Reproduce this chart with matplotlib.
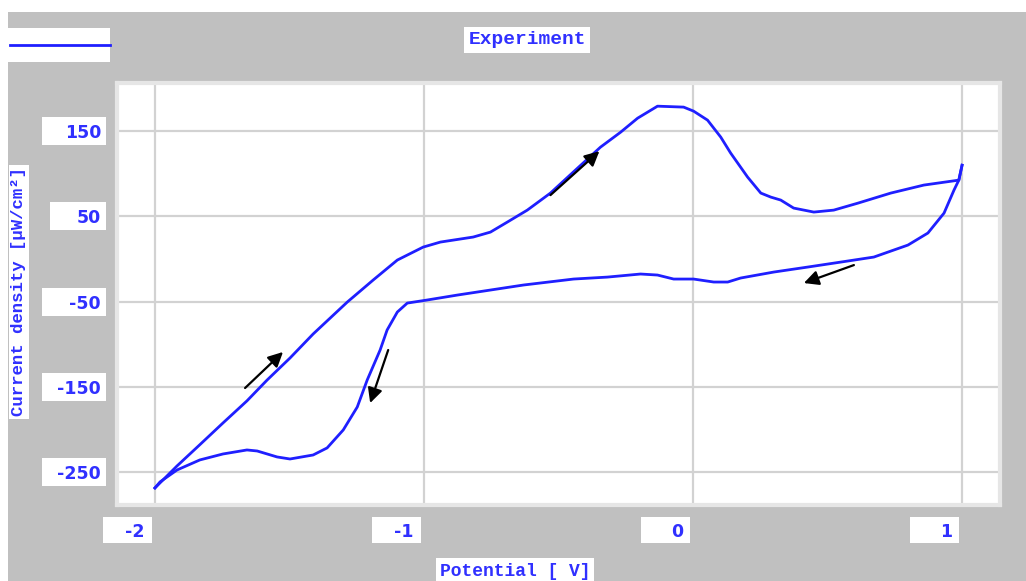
import matplotlib.pyplot as plt
import matplotlib.transforms as mtransforms
from matplotlib.patches import Rectangle

# -----------------------------
# DATA
# -----------------------------
# forward scan, -2 V -> +1 V
fwd_v = [-2.000, -1.918, -1.833, -1.747, -1.658, -1.583, -1.498, -1.412, -1.285,
         -1.189, -1.099, -1.003, -0.939, -0.817, -0.753, -0.690, -0.616, -0.530,
         -0.437, -0.344, -0.269, -0.206, -0.132, -0.035, 0.002, 0.054, 0.103,
         0.140, 0.203, 0.252, 0.289, 0.326, 0.374, 0.449, 0.523, 0.613, 0.735,
         0.858, 0.988, 1.000]
fwd_i = [-268.8, -243.0, -218.0, -192.5, -166.6, -142.1, -116.3, -88.1, -50.6,
         -24.8, -1.3, 13.9, 19.8, 25.7, 31.5, 43.3, 57.3, 77.3,
         104.3, 131.2, 148.8, 165.2, 179.3, 178.2, 173.5, 162.9, 143.0,
         124.2, 96.0, 77.3, 72.6, 69.1, 59.7, 55.0, 57.3, 65.5, 77.3,
         86.7, 92.5, 110.0]

# reverse scan, +1 V -> -2 V
rev_v = [1.000, 0.988, 0.970, 0.933, 0.873, 0.799, 0.672, 0.549, 0.427, 0.300,
         0.177, 0.129, 0.077, 0.002, -0.072, -0.132, -0.195, -0.318, -0.444,
         -0.630, -0.753, -0.876, -0.988, -1.062, -1.099, -1.137, -1.163, -1.211,
         -1.248, -1.300, -1.360, -1.412, -1.498, -1.546, -1.620, -1.658, -1.747,
         -1.833, -1.918, -1.981, -2.000]
rev_i = [110.0, 92.5, 80.8, 53.8, 30.4, 16.3, 2.2, -3.7, -9.5, -15.4,
         -22.4, -27.1, -27.1, -23.6, -23.6, -18.9, -17.7, -21.3, -23.6,
         -30.6, -36.5, -42.4, -48.2, -51.8, -62.3, -83.4, -106.9, -142.1,
         -173.8, -200.7, -221.8, -230.1, -234.8, -232.4, -225.4, -224.2, -228.9,
         -235.9, -247.7, -261.7, -268.8]

# scan direction arrows: (tail_v, tail_i, tip_v, tip_i)
arrows = [(-1.665, -151.5, -1.524, -109.2),
          (-1.133, -106.9, -1.200, -169.1),
          (-0.530, 74.9, -0.348, 126.5),
          (0.598, -7.2, 0.412, -28.3)]

x_ticks = [-2, -1, 0, 1]
y_ticks = [150, 50, -50, -150, -250]

BLUE = "#1f1fff"
TXT = "#3030ff"
GRAY = "#c0c0c0"

fig = plt.figure(figsize=(10.26, 5.81), dpi=100, facecolor="white")
# gray panel behind everything (white strip at top and left edge)
fig.patches.append(Rectangle((8 / 1026, 0), 1, 569 / 581, transform=fig.transFigure,
                             facecolor=GRAY, edgecolor="none", zorder=-5))

ax = fig.add_axes([117 / 1026, 76 / 581, 883 / 1026, 422 / 581])
ax.set_zorder(2)
ax.set_facecolor("white")
ax.set_xlim(-2.141, 1.141)
ax.set_ylim(-288.8, 206.5)

ax.set_xticks(x_ticks)
ax.set_yticks(y_ticks)
ax.tick_params(length=0, labelbottom=False, labelleft=False)
ax.grid(True, color="#d2d2d2", linewidth=1.6)
for sp in ax.spines.values():
    sp.set_color("#e6e6e6")
    sp.set_linewidth(3)

ax.plot(fwd_v, fwd_i, color=BLUE, linewidth=2.0)
ax.plot(rev_v, rev_i, color=BLUE, linewidth=2.0)

for tv, ti, hv, hi in arrows:
    ax.annotate("", xy=(hv, hi), xytext=(tv, ti),
                arrowprops=dict(arrowstyle="-|>", color="black", lw=1.6,
                                mutation_scale=22, shrinkA=0, shrinkB=0))

tick_font = dict(family="DejaVu Sans", fontsize=12.5, fontweight="bold", color=TXT)


def anchored(x, y, base):
    # pixel offsets around a point given in 'base' coordinates
    return mtransforms.Affine2D() + mtransforms.ScaledTranslation(x, y, base)


# y tick labels in fixed white boxes, left of the plot
ytr = ax.get_yaxis_transform()
for yv in y_ticks:
    lab = str(yv)
    w = 64 if len(lab) >= 3 else 56
    ax.add_patch(Rectangle((-11 - w, -14), w, 28, transform=anchored(0, yv, ytr),
                           facecolor="white", edgecolor="none", clip_on=False))
    ax.text(0, yv, lab, transform=ytr + mtransforms.Affine2D().translate(-16, 0),
            ha="right", va="center_baseline", clip_on=False, **tick_font)

# x tick labels in fixed white boxes, below the plot
xtr = ax.get_xaxis_transform()
for xv in x_ticks:
    ax.add_patch(Rectangle((-52, -38), 49, 26, transform=anchored(xv, 0, xtr),
                           facecolor="white", edgecolor="none", clip_on=False))
    ax.text(xv, 0, str(xv), transform=xtr + mtransforms.Affine2D().translate(-10, -25),
            ha="right", va="center_baseline", clip_on=False, **tick_font)

mono = dict(family="Liberation Mono", fontweight="bold", color=TXT)
box = dict(facecolor="white", edgecolor="none", pad=3)

fig.text(527 / 1026, 1 - 40 / 581, "Experiment", ha="center", va="center",
         fontsize=14, bbox=box, **mono)
fig.text(515 / 1026, 1 - 571 / 581, "Potential [ V]", ha="center", va="center",
         fontsize=13, bbox=box, **mono)
fig.text(19 / 1026, 1 - 292 / 581, "Current density [μW/cm²]", ha="center",
         va="center", rotation=90, fontsize=12.5,
         bbox=dict(facecolor="white", edgecolor="none", pad=2), **mono)

# legend swatch at top left
fig.patches.append(Rectangle((8 / 1026, 1 - 62 / 581), 102 / 1026, 34 / 581,
                             transform=fig.transFigure, facecolor="white",
                             edgecolor="none", zorder=1))
fig.lines.append(plt.Line2D([10 / 1026, 110 / 1026], [1 - 45 / 581, 1 - 45 / 581],
                            transform=fig.transFigure, color=BLUE, linewidth=2,
                            zorder=2))

fig.savefig("out.png", dpi=100, facecolor=fig.get_facecolor())
